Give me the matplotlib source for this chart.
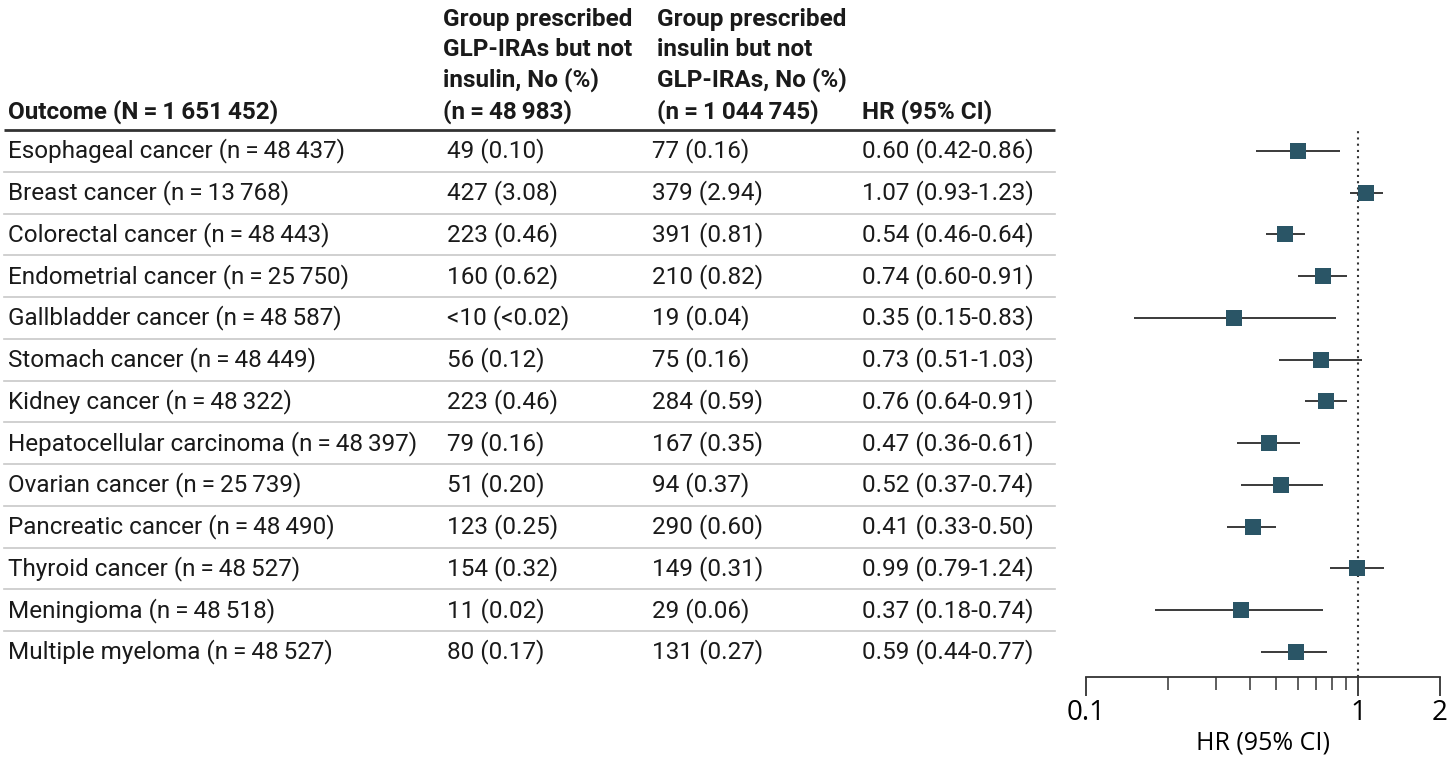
import numpy as np
import matplotlib
matplotlib.use("Agg")
import matplotlib.pyplot as plt
from matplotlib.ticker import FixedLocator, NullFormatter

TS = "\u2009"  # thin space used as thousands separator

outcomes = [
    "Esophageal cancer", "Breast cancer", "Colorectal cancer", "Endometrial cancer",
    "Gallbladder cancer", "Stomach cancer", "Kidney cancer", "Hepatocellular carcinoma",
    "Ovarian cancer", "Pancreatic cancer", "Thyroid cancer", "Meningioma",
    "Multiple myeloma",
]
outcome_n = ["48 437", "13 768", "48 443", "25 750", "48 587", "48 449", "48 322",
             "48 397", "25 739", "48 490", "48 527", "48 518", "48 527"]
glp_counts = ["49 (0.10)", "427 (3.08)", "223 (0.46)", "160 (0.62)", "<10 (<0.02)",
              "56 (0.12)", "223 (0.46)", "79 (0.16)", "51 (0.20)", "123 (0.25)",
              "154 (0.32)", "11 (0.02)", "80 (0.17)"]
insulin_counts = ["77 (0.16)", "379 (2.94)", "391 (0.81)", "210 (0.82)", "19 (0.04)",
                  "75 (0.16)", "284 (0.59)", "167 (0.35)", "94 (0.37)", "290 (0.60)",
                  "149 (0.31)", "29 (0.06)", "131 (0.27)"]
hr = [0.60, 1.07, 0.54, 0.74, 0.35, 0.73, 0.76, 0.47, 0.52, 0.41, 0.99, 0.37, 0.59]
ci_lo = [0.42, 0.93, 0.46, 0.60, 0.15, 0.51, 0.64, 0.36, 0.37, 0.33, 0.79, 0.18, 0.44]
ci_hi = [0.86, 1.23, 0.64, 0.91, 0.83, 1.03, 0.91, 0.61, 0.74, 0.50, 1.24, 0.74, 0.77]

headers = [
    "Outcome (N = 1 651 452)",
    "Group prescribed\nGLP-IRAs but not\ninsulin, No (%)\n(n = 48 983)",
    "Group prescribed\ninsulin but not\nGLP-IRAs, No (%)\n(n = 1 044 745)",
    "HR (95% CI)",
]

FONT = ["Roboto", "DejaVu Sans"]
FS = 17.5
plt.rcParams["font.family"] = FONT

W, H = 1449, 763
fig = plt.figure(figsize=(W / 100, H / 100), dpi=100)

# table layer in pixel coords
tab = fig.add_axes([0, 0, 1, 1])
tab.set_xlim(0, W)
tab.set_ylim(H, 0)
tab.axis("off")

y0, dy = 151, 41.75
col_x = [8, 447, 652, 862]
head_x = [8, 443, 657, 862]
line_end = 1055

for hx, h in zip(head_x, headers):
    h = h.replace(" = ", TS + "=" + TS)
    h = h.replace("1 651 452", "1" + TS + "651" + TS + "452")
    h = h.replace("48 983", "48" + TS + "983").replace("1 044 745", "1" + TS + "044" + TS + "745")
    tab.text(hx, 124, h, fontsize=FS, fontweight="bold", va="bottom", ha="left",
             linespacing=1.38, color="#1a1a1a")
tab.plot([4, line_end], [130, 130], color="#333333", lw=2, solid_capstyle="butt")

n = len(outcomes)
for i in range(n):
    y = y0 + i * dy
    label = f"{outcomes[i]} (n{TS}={TS}{outcome_n[i].replace(' ', TS)})"
    hr_txt = f"{hr[i]:.2f} ({ci_lo[i]:.2f}-{ci_hi[i]:.2f})"
    for cx, t in zip(col_x, [label, glp_counts[i], insulin_counts[i], hr_txt]):
        tab.text(cx, y, t, fontsize=FS, va="center", ha="left", color="#1a1a1a")
    if i < n - 1:
        tab.plot([4, line_end], [y + dy / 2, y + dy / 2], color="#c8c8c8", lw=1.2)

# forest plot
ax_l, ax_r = 1086, 1440
ax_top, ax_bot = 130, 677
ax = fig.add_axes([ax_l / W, 1 - ax_bot / H, (ax_r - ax_l) / W, (ax_bot - ax_top) / H])
ax.set_xscale("log")
ax.set_xlim(0.1, 2)
rows = np.arange(n)
ax.set_ylim((ax_bot - y0) / dy, (ax_top - y0) / dy)

ax.axvline(1, color="#333333", lw=1.5, ls=(0, (1, 2)), zorder=1)
ax.hlines(rows, ci_lo, ci_hi, color="#2b2b2b", lw=1.3, zorder=2)
ax.scatter(hr, rows, marker="s", s=140, color="#2a5566", zorder=3, linewidths=0)

for s in ["top", "left", "right"]:
    ax.spines[s].set_visible(False)
ax.spines["bottom"].set_color("#333333")
ax.spines["bottom"].set_linewidth(1.3)
ax.set_yticks([])
ax.xaxis.set_major_locator(FixedLocator([0.1, 1, 2]))
ax.xaxis.set_minor_locator(FixedLocator([0.2, 0.3, 0.4, 0.5, 0.6, 0.7, 0.8, 0.9]))
ax.xaxis.set_minor_formatter(NullFormatter())
ax.set_xticklabels(["0.1", "1", "2"], fontsize=20, family=["Open Sans", "DejaVu Sans"])
ax.tick_params(axis="x", which="major", length=14, width=1.3, color="#333333", pad=2)
ax.tick_params(axis="x", which="minor", length=9, width=1.1, color="#333333")
ax.set_xlabel("HR (95% CI)", fontsize=18, family=["Open Sans", "DejaVu Sans"], labelpad=2)

fig.savefig("out.png", dpi=100)
